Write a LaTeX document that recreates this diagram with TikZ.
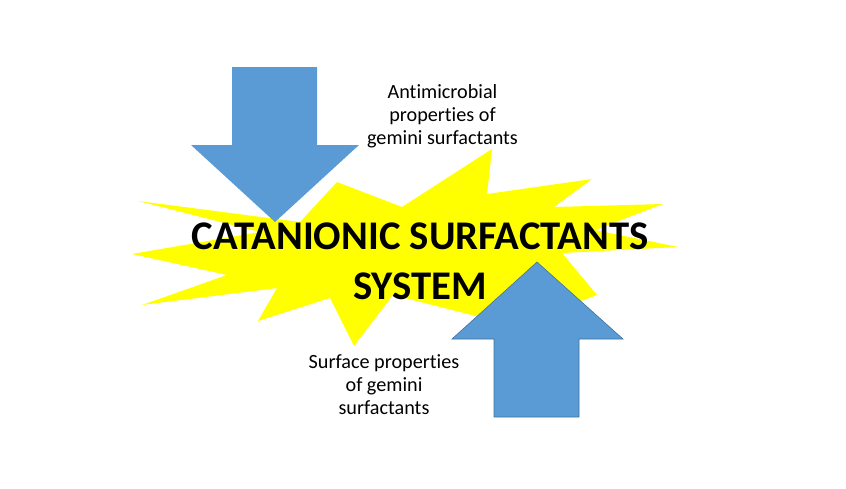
\documentclass[tikz,border=0pt]{standalone}
\usepackage{fontspec}
\setmainfont{Carlito}[Ligatures=NoCommon]
\definecolor{arrowblue}{HTML}{5B9BD5}
\definecolor{arrowedge}{HTML}{41719C}
\definecolor{staryellow}{HTML}{FFFF00}
\begin{document}
\begin{tikzpicture}[x=1pt,y=-1pt,
  starshape/.style={fill=staryellow,draw=none},
  downarrow/.style={fill=arrowblue,draw=none},
  uparrow/.style={fill=arrowblue,draw=arrowedge,line width=0.6pt,line join=miter},
  smalltext/.style={anchor=base,inner sep=0pt,font=\fontsize{20.2}{23.3}\selectfont},
  bigtext/.style={anchor=base,inner sep=0pt,font=\fontsize{40.7}{50}\selectfont\bfseries}]
\useasboundingbox (0,0) rectangle (846,488);
% explosion
\path[starshape] (138,201) -- (300,222) -- (337,182) -- (402,207) -- (492,149) -- (487,194)
  -- (592,179) -- (554,207) -- (663,204) -- (595,230) -- (678,247) -- (562,253)
  -- (597,295) -- (515,326) -- (393,295) -- (354,346) -- (330,298) -- (258,321)
  -- (277,288) -- (142,305) -- (227,275) -- (132,254) -- (260,232) -- cycle;
% down arrow
\path[downarrow] (232,67) -- (317,67) -- (317,145) -- (359,145) -- (275,222)
  -- (191,145) -- (232,145) -- cycle;
% up arrow
\draw[uparrow] (537,262) -- (623,339) -- (579,339) -- (579,417) -- (494,417)
  -- (494,339) -- (452,339) -- cycle;
% texts
\node[smalltext] (top) at (442.5,98) {\begin{tabular}[t]{@{}c@{}}Antimicrobial\\properties of\\gemini surfactants\end{tabular}};
\node[smalltext] (bottom) at (384,368) {\begin{tabular}[t]{@{}c@{}}Surface properties\\of gemini\\surfactants\end{tabular}};
\node[bigtext] (main) at (420,249) {\begin{tabular}[t]{@{}c@{}}CATANIONIC SURFACTANTS\\SYSTEM\end{tabular}};
\end{tikzpicture}
\end{document}
